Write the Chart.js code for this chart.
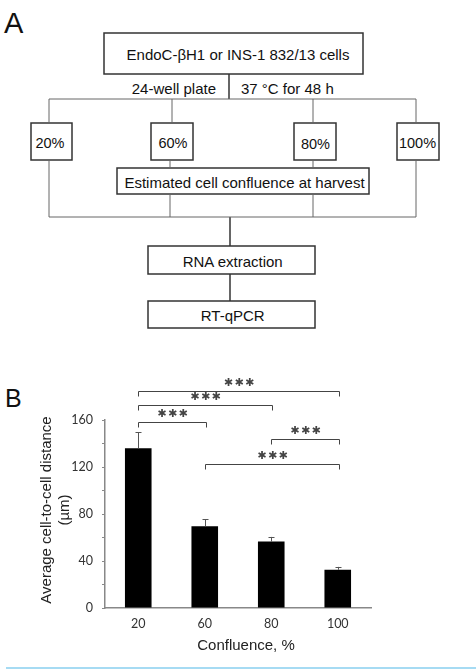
<!DOCTYPE html>
<html>
<head>
<meta charset="utf-8">
<script src="https://cdn.jsdelivr.net/npm/chart.js@4.4.0/dist/chart.umd.min.js"></script>
<style>
  body { margin: 0; background: #fff; }
  #page { position: relative; width: 476px; height: 669px; overflow: hidden; font-family: "Liberation Sans", Arial, sans-serif; }
  .panel-label { position: absolute; color: #111; line-height: 1; }
  #chart-wrap { position: absolute; left: 0; top: 360px; width: 476px; height: 300px; }
  #rule { position: absolute; left: 6px; top: 667px; width: 470px; height: 2px; background: #a6dbf3; }
</style>
</head>
<body>
<div id="page">
  <div class="panel-label" style="left:4px; top:9px; font-size:29px;">A</div>

  <!-- Panel A: workflow -->
  <svg width="476" height="340" style="position:absolute; left:0; top:0;" font-family="Liberation Sans, Arial, sans-serif" font-size="15" fill="#111">
    <g stroke="#333" stroke-width="1.5" fill="none">
      <rect x="104" y="33" width="259" height="41"/>
      <rect x="31" y="123" width="41" height="37"/>
      <rect x="151" y="123" width="42" height="37"/>
      <rect x="294" y="123" width="42" height="37"/>
      <rect x="397" y="123" width="42" height="37"/>
      <rect x="117" y="168" width="252" height="26"/>
      <rect x="148" y="246" width="167" height="28"/>
      <rect x="148" y="301" width="167" height="27"/>
      <line x1="229" y1="74" x2="229" y2="99"/>
      <line x1="230" y1="217" x2="230" y2="246"/>
      <line x1="230" y1="274" x2="230" y2="301"/>
    </g>
    <g stroke="#666" stroke-width="1" fill="none">
      <line x1="49" y1="99" x2="416" y2="99"/>
      <line x1="49" y1="99" x2="49" y2="123"/>
      <line x1="172" y1="99" x2="172" y2="123"/>
      <line x1="313" y1="99" x2="313" y2="123"/>
      <line x1="416" y1="99" x2="416" y2="123"/>
      <line x1="49" y1="160" x2="49" y2="217"/>
      <line x1="416" y1="160" x2="416" y2="217"/>
      <line x1="170" y1="160" x2="170" y2="168"/>
      <line x1="170" y1="194" x2="170" y2="217"/>
      <line x1="313" y1="160" x2="313" y2="168"/>
      <line x1="313" y1="194" x2="313" y2="217"/>
      <line x1="49" y1="217" x2="416" y2="217"/>
    </g>
    <g stroke="none" dominant-baseline="central">
      <text x="238" y="54" text-anchor="middle">EndoC-βH1 or INS-1 832/13 cells</text>
      <text x="216" y="88" text-anchor="end">24-well plate</text>
      <text x="241" y="88" text-anchor="start">37 °C for 48 h</text>
      <text x="50" y="143" text-anchor="middle" font-size="14.5">20%</text>
      <text x="173" y="143" text-anchor="middle" font-size="14.5">60%</text>
      <text x="315.5" y="144" text-anchor="middle" font-size="14.5">80%</text>
      <text x="417.5" y="143" text-anchor="middle" font-size="14.5">100%</text>
      <text x="244.5" y="182.5" text-anchor="middle">Estimated cell confluence at harvest</text>
      <text x="232.7" y="261" text-anchor="middle">RNA extraction</text>
      <text x="232.7" y="315.5" text-anchor="middle">RT-qPCR</text>
    </g>
  </svg>

  <div class="panel-label" style="left:5px; top:386px; font-size:25px;">B</div>
  <div id="chart-wrap"><canvas id="distChart"></canvas></div>
  <div id="rule"></div>
</div>

<script>
// --- Data ---
const confluence = ['20', '60', '80', '100'];
const meanDistance = [136, 69.5, 56.5, 32.5];
const errDistance = [13.5, 6, 4, 2.5];
const yTicks = [0, 40, 80, 120, 160];

// significance brackets (category indexes, height in axis units)
const bracketFrom = [0, 0, 0, 2, 1];
const bracketTo = [3, 2, 1, 3, 3];
const bracketLevel = [185, 172.8, 158, 143.8, 122.8];
const bracketStars = [3, 3, 3, 3, 3];

// --- Extras drawn on top of the bars ---
const extrasPlugin = {
    id: 'extras',
    afterDatasetsDraw(chart) {
        const ctx = chart.ctx;
        const x = chart.scales.x;
        const y = chart.scales.y;
        const meta = chart.getDatasetMeta(0);

        // error bars (upper only)
        ctx.save();
        ctx.strokeStyle = '#555';
        ctx.lineWidth = 1;
        meta.data.forEach((bar, i) => {
            const top = y.getPixelForValue(meanDistance[i] + errDistance[i]);
            const cx = Math.round(bar.x) + 0.5;
            ctx.beginPath();
            ctx.moveTo(cx, bar.y);
            ctx.lineTo(cx, top);
            ctx.moveTo(cx - 3, Math.round(top) + 0.5);
            ctx.lineTo(cx + 3, Math.round(top) + 0.5);
            ctx.stroke();
        });

        // brackets with stars
        ctx.strokeStyle = '#444';
        ctx.fillStyle = '#444';
        ctx.font = '11px "DejaVu Sans", sans-serif';
        ctx.textAlign = 'center';
        ctx.textBaseline = 'middle';
        bracketFrom.forEach((from, i) => {
            const x1 = Math.round(x.getPixelForValue(from)) + 0.5;
            const x2 = Math.round(x.getPixelForValue(bracketTo[i])) + 1.5;
            const yy = Math.round(y.getPixelForValue(bracketLevel[i])) + 0.5;
            ctx.beginPath();
            ctx.moveTo(x1, yy + 5);
            ctx.lineTo(x1, yy);
            ctx.lineTo(x2, yy);
            ctx.lineTo(x2, yy + 5);
            ctx.stroke();
            const mid = (x1 + x2) / 2;
            const n = bracketStars[i];
            for (let k = 0; k < n; k++) {
                ctx.fillText('\u2731', mid + (k - (n - 1) / 2) * 10.7, yy - 8);
            }
        });
        ctx.restore();

        // axis titles
        const area = chart.chartArea;
        ctx.save();
        ctx.fillStyle = '#222';
        ctx.font = '15px "Liberation Sans", Arial, sans-serif';
        ctx.textAlign = 'center';
        ctx.textBaseline = 'middle';
        ctx.fillText('Confluence, %', (area.left + area.right) / 2 + 8, area.bottom + 38);
        const cy = (area.top + area.bottom) / 2 - 4;
        ctx.translate(area.left - 58, cy);
        ctx.rotate(-Math.PI / 2);
        ctx.fillText('Average cell-to-cell distance', 0, 0);
        ctx.fillText('(µm)', 0, 18);
        ctx.restore();
    }
};

// --- Chart ---
const ctx = document.getElementById('distChart').getContext('2d');
const distChart = new Chart(ctx, {
    type: 'bar',
    data: {
        labels: confluence,
        datasets: [{
            data: meanDistance,
            backgroundColor: '#000',
            borderWidth: 0,
            categoryPercentage: 0.5,
            barPercentage: 0.8
        }]
    },
    options: {
        responsive: true,
        maintainAspectRatio: false,
        animation: false,
        layout: { padding: { top: 60, right: 105, bottom: 0, left: 0 } },
        plugins: {
            legend: { display: false },
            tooltip: { enabled: false }
        },
        scales: {
            x: {
                grid: { display: true, drawOnChartArea: false, drawTicks: false },
                border: { display: true, color: '#888', width: 1.5 },
                ticks: {
                    color: '#333',
                    padding: 8,
                    font: { family: 'Lato, "Liberation Sans", sans-serif', size: 12.5 }
                },
                afterFit: (scale) => { scale.height = 52; }
            },
            y: {
                min: 0,
                max: 160,
                grid: { drawOnChartArea: false, drawTicks: true, tickLength: 3, color: '#888' },
                border: { display: true, color: '#888', width: 1.5 },
                ticks: {
                    stepSize: 20,
                    color: '#333',
                    padding: 9,
                    font: { family: 'Lato, "Liberation Sans", sans-serif', size: 12.5 },
                    callback: (v) => yTicks.includes(v) ? v : ''
                },
                afterFit: (scale) => { scale.width = 105; }
            }
        }
    },
    plugins: [extrasPlugin]
});
</script>
</body>
</html>
